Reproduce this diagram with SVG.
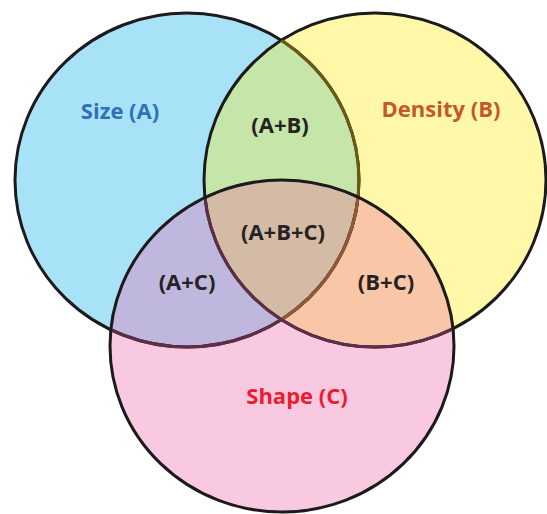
<svg xmlns="http://www.w3.org/2000/svg" width="547" height="514" viewBox="0 0 547 514">
  <style>
    .lbl { font-family: "Open Sans", "Liberation Sans", sans-serif; font-weight: 700; font-size: 22px; text-anchor: middle; }
    .dark { fill: #262222; }
    .ln { fill: none; stroke-width: 3; }
  </style>
  <defs>
    <ellipse id="eA" cx="187" cy="180" rx="172" ry="167"/>
    <ellipse id="eB" cx="375" cy="180" rx="171" ry="167"/>
    <ellipse id="eC" cx="282" cy="346" rx="172" ry="166"/>
    <clipPath id="cA"><use href="#eA"/></clipPath>
    <clipPath id="cB"><use href="#eB"/></clipPath>
    <clipPath id="cC"><use href="#eC"/></clipPath>
  </defs>
  <rect width="547" height="514" fill="#ffffff"/>

  <g id="node-A">
    <use href="#eA" fill="#a8e2f7"/>
    <text class="lbl" x="120" y="119" fill="#2f70bb">Size (A)</text>
  </g>
  <g id="node-B">
    <use href="#eB" fill="#fff8a8"/>
    <text class="lbl" x="441" y="117" fill="#c3582a">Density (B)</text>
  </g>
  <g id="node-C">
    <use href="#eC" fill="#f8c9e1"/>
    <text class="lbl" x="297" y="404" fill="#ec1c2e">Shape (C)</text>
  </g>
  <g id="overlap-AB">
    <use href="#eB" fill="#c6e5a8" clip-path="url(#cA)"/>
    <text class="lbl dark" x="280" y="133">(A+B)</text>
  </g>
  <g id="overlap-AC">
    <use href="#eC" fill="#bfb7dd" clip-path="url(#cA)"/>
    <text class="lbl dark" x="187" y="290">(A+C)</text>
  </g>
  <g id="overlap-BC">
    <use href="#eC" fill="#f9c6a8" clip-path="url(#cB)"/>
    <text class="lbl dark" x="386" y="290">(B+C)</text>
  </g>
  <g id="overlap-ABC">
    <g clip-path="url(#cA)">
      <use href="#eC" fill="#d4bba6" clip-path="url(#cB)"/>
    </g>
    <text class="lbl dark" x="283" y="240">(A+B+C)</text>
  </g>

  <g id="outlines">
    <use href="#eA" class="ln" stroke="#1c1a1a"/>
    <use href="#eB" class="ln" stroke="#1c1a1a"/>
    <use href="#eA" class="ln" stroke="#6b5a14" clip-path="url(#cB)"/>
    <use href="#eA" class="ln" stroke="#5e2e48" clip-path="url(#cC)"/>
    <g clip-path="url(#cC)">
      <use href="#eA" class="ln" stroke="#8e5a38" clip-path="url(#cB)"/>
    </g>
    <use href="#eB" class="ln" stroke="#5e2e48" clip-path="url(#cC)"/>
    <use href="#eC" class="ln" stroke="#1c1a1a"/>
  </g>
</svg>
